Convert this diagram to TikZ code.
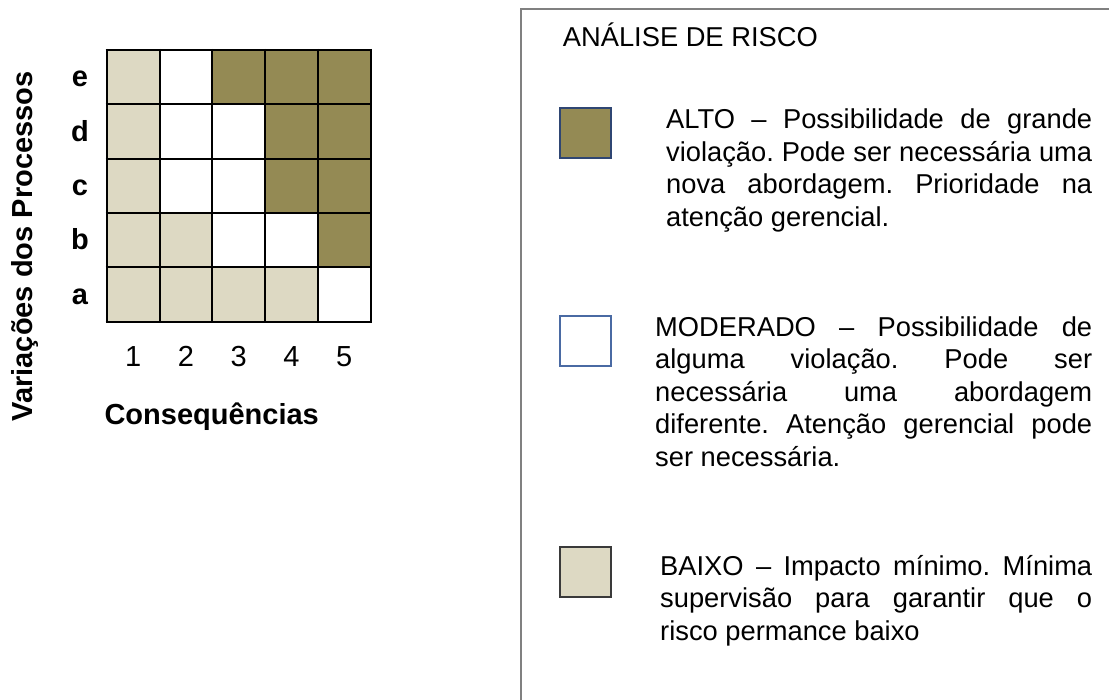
\documentclass[tikz,border=0pt]{standalone}
\usepackage{fontspec}
\setmainfont{Liberation Sans}
\definecolor{altoC}{HTML}{948A54}
\definecolor{baixoC}{HTML}{DDD9C3}
\definecolor{frameC}{HTML}{808080}
\definecolor{altoB}{HTML}{2F4673}
\definecolor{modB}{HTML}{4A6AA3}
\definecolor{baixoB}{HTML}{3A3A3A}
\begin{document}
\begin{tikzpicture}[x=1pt,y=-1pt,
  gridlbl/.style={font=\fontsize{29}{34}\selectfont\bfseries, inner sep=0pt, anchor=base},
  numlbl/.style={font=\fontsize{29}{34}\selectfont, inner sep=0pt, anchor=base},
  legtext/.style={font=\fontsize{27.3}{32.5}\selectfont, inner sep=0pt, anchor=base west, align=justify},
  legsq/.style={minimum width=51pt, minimum height=50pt, inner sep=0pt, line width=1.6pt, anchor=north west}
]
\useasboundingbox (0,0) rectangle (1109,700);
\clip (0,0) rectangle (1109,700);
\fill[white] (0,0) rectangle (1109,700);

% grid cells
\foreach \c/\r/\col in {0/0/baixoC,2/0/altoC,3/0/altoC,4/0/altoC,
  0/1/baixoC,3/1/altoC,4/1/altoC,
  0/2/baixoC,3/2/altoC,4/2/altoC,
  0/3/baixoC,1/3/baixoC,4/3/altoC,
  0/4/baixoC,1/4/baixoC,2/4/baixoC,3/4/baixoC}
  \fill[\col] (106.7+52.8*\c, 50+54.35*\r) rectangle ++(52.8,54.35);
\foreach \i in {0,...,5} {
  \draw[line width=2pt] (106.7+52.8*\i, 49) -- (106.7+52.8*\i, 322.75);
  \draw[line width=2pt] (105.7, 50+54.35*\i) -- (371.7, 50+54.35*\i);
}

% row labels
\foreach \r/\t in {0/e,1/d,2/c,3/b,4/a}
  \node[gridlbl] (row\t) at (80, 77.2+54.35*\r+9.7) {\t};
% column labels
\foreach \c in {1,...,5}
  \node[numlbl] (col\c) at (106.7+52.8*\c-26.4, 366.7) {\c};

\node[gridlbl] (xaxis) at (211.7, 425) {Consequências};
\node[gridlbl, rotate=90] (yaxis) at (32, 246.5) {Variações dos Processos};

% legend frame
\draw[frameC, line width=2.5pt] (521,9) rectangle (1130,720);

\node[font=\fontsize{27.3}{32.5}\selectfont, inner sep=0pt, anchor=base west] (title) at (562.7,46.7) {ANÁLISE DE RISCO};

\node[legsq, draw=altoB, fill=altoC] (sqalto) at (559.3,107.3) {};
\node[legsq, draw=modB, fill=white] (sqmod) at (559.3,315) {};
\node[legsq, draw=baixoB, fill=baixoC] (sqbaixo) at (559.3,546) {};

\node[legtext, text width=426pt] (talto) at (666,129) {\frenchspacing\hyphenpenalty=10000\hbadness=10000\hfuzz=3pt
ALTO -- Possibilidade de grande\linebreak
violação. Pode ser necessária uma\linebreak
nova abordagem. Prioridade na\linebreak
atenção gerencial.};

\node[legtext, text width=437pt] (tmod) at (655,336.5) {\frenchspacing\hyphenpenalty=10000\hbadness=10000\hfuzz=3pt
MODERADO -- Possibilidade de\linebreak
alguma violação. Pode ser\linebreak
necessária uma abordagem\linebreak
diferente. Atenção gerencial pode\linebreak
ser necessária.};

\node[legtext, text width=432pt] (tbaixo) at (660,575) {\frenchspacing\hyphenpenalty=10000\hbadness=10000\hfuzz=3pt
BAIXO -- Impacto mínimo. Mínima\linebreak
supervisão para garantir que o\linebreak
risco permance baixo};
\end{tikzpicture}
\end{document}
